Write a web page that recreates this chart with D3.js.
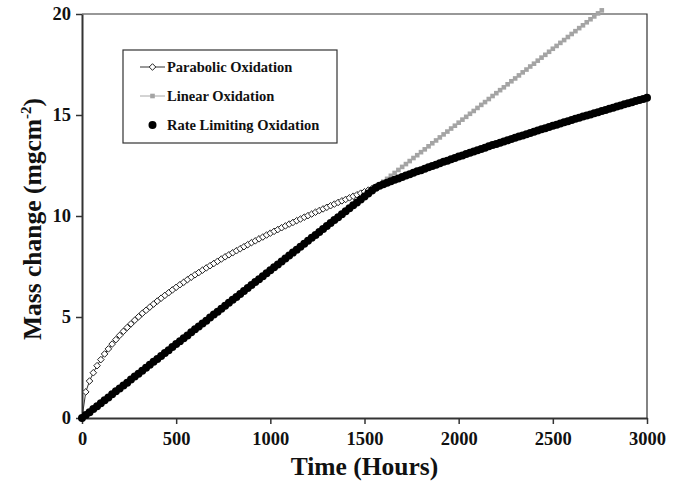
<!DOCTYPE html>
<html>
<head>
<meta charset="utf-8">
<script src="https://cdn.jsdelivr.net/npm/d3@7"></script>
<style>
  body { margin: 0; background: #fff; }
  text { font-family: "Liberation Serif", "Times New Roman", serif; font-weight: bold; fill: #111; }
</style>
</head>
<body>
<svg id="chart" width="687" height="483"></svg>
<script>
// Sampling times (hours)
const hours = [0,20,40,60,80,100,120,140,160,180,200,220,240,260,280,300,320,340,360,380,400,420,440,460,480,500,520,540,560,580,600,620,640,660,680,700,720,740,760,780,800,820,840,860,880,900,920,940,960,980,1000,1020,1040,1060,1080,1100,1120,1140,1160,1180,1200,1220,1240,1260,1280,1300,1320,1340,1360,1380,1400,1420,1440,1460,1480,1500,1520,1540,1560,1580,1600,1620,1640,1660,1680,1700,1720,1740,1760,1780,1800,1820,1840,1860,1880,1900,1920,1940,1960,1980,2000,2020,2040,2060,2080,2100,2120,2140,2160,2180,2200,2220,2240,2260,2280,2300,2320,2340,2360,2380,2400,2420,2440,2460,2480,2500,2520,2540,2560,2580,2600,2620,2640,2660,2680,2700,2720,2740,2760,2780,2800,2820,2840,2860,2880,2900,2920,2940,2960,2980,3000];

// Mass change (mg/cm^2) per series, indexed against hours
const parabolic = [0,1.29,1.83,2.24,2.59,2.89,3.17,3.42,3.66,3.88,4.09,4.29,4.48,4.66,4.84,5.01,5.18,5.33,5.49,5.64,5.79,5.93,6.07,6.20,6.34,6.47,6.60,6.72,6.85,6.97,7.09,7.20,7.32,7.43,7.54,7.65,7.76,7.87,7.98,8.08,8.18,8.28,8.38,8.48,8.58,8.68,8.77,8.87,8.96,9.06,9.15,9.24,9.33,9.42,9.51,9.60,9.68,9.77,9.85,9.94,10.02,10.10,10.19,10.27,10.35,10.43,10.51,10.59,10.67,10.75,10.82,10.90,10.98,11.05,11.13,11.20,11.28,11.35,11.43,11.50];

const linear = [0,0.15,0.29,0.44,0.58,0.73,0.88,1.02,1.17,1.32,1.46,1.61,1.75,1.90,2.05,2.19,2.34,2.49,2.63,2.78,2.92,3.07,3.22,3.36,3.51,3.66,3.80,3.95,4.09,4.24,4.39,4.53,4.68,4.82,4.97,5.12,5.26,5.41,5.56,5.70,5.85,5.99,6.14,6.29,6.43,6.58,6.73,6.87,7.02,7.16,7.31,7.46,7.60,7.75,7.89,8.04,8.19,8.33,8.48,8.63,8.77,8.92,9.06,9.21,9.36,9.50,9.65,9.80,9.94,10.09,10.23,10.38,10.53,10.67,10.82,10.97,11.11,11.26,11.40,11.55,11.70,11.84,11.99,12.13,12.28,12.43,12.57,12.72,12.87,13.01,13.16,13.30,13.45,13.60,13.74,13.89,14.04,14.18,14.33,14.47,14.62,14.77,14.91,15.06,15.20,15.35,15.50,15.64,15.79,15.94,16.08,16.23,16.37,16.52,16.67,16.81,16.96,17.11,17.25,17.40,17.54,17.69,17.84,17.98,18.13,18.28,18.42,18.57,18.71,18.86,19.01,19.15,19.30,19.44,19.59,19.74,19.88,20.03,20.18];

const rateLimiting = [0,0.15,0.29,0.44,0.58,0.73,0.88,1.02,1.17,1.32,1.46,1.61,1.75,1.90,2.05,2.19,2.34,2.49,2.63,2.78,2.92,3.07,3.22,3.36,3.51,3.66,3.80,3.95,4.09,4.24,4.39,4.53,4.68,4.82,4.97,5.12,5.26,5.41,5.56,5.70,5.85,5.99,6.14,6.29,6.43,6.58,6.73,6.87,7.02,7.16,7.31,7.46,7.60,7.75,7.89,8.04,8.19,8.33,8.48,8.63,8.77,8.92,9.06,9.21,9.36,9.50,9.65,9.80,9.94,10.09,10.23,10.38,10.53,10.67,10.82,10.97,11.11,11.26,11.40,11.50,11.57,11.64,11.72,11.79,11.86,11.93,12.00,12.07,12.14,12.21,12.27,12.34,12.41,12.48,12.54,12.61,12.68,12.74,12.81,12.87,12.94,13.00,13.07,13.13,13.19,13.26,13.32,13.38,13.45,13.51,13.57,13.63,13.69,13.75,13.81,13.87,13.93,13.99,14.05,14.11,14.17,14.23,14.29,14.35,14.41,14.47,14.52,14.58,14.64,14.69,14.75,14.81,14.86,14.92,14.98,15.03,15.09,15.14,15.20,15.25,15.31,15.36,15.42,15.47,15.53,15.58,15.63,15.69,15.74,15.79,15.85];

const seriesNames = ["Parabolic Oxidation", "Linear Oxidation", "Rate Limiting Oxidation"];
const xTicks = [0, 500, 1000, 1500, 2000, 2500, 3000];
const yTicks = [0, 5, 10, 15, 20];
const xTitle = "Time (Hours)";

const svg = d3.select("#chart");
const plotLeft = 82, plotRight = 647, plotTop = 14, plotBottom = 418;

const x = d3.scaleLinear().domain([0, 3000]).range([plotLeft, plotRight]);
const y = d3.scaleLinear().domain([0, 20]).range([plotBottom, plotTop]);

const pts = arr => arr.map((v, i) => [hours[i], v]);

// Plot frame (top and right edges)
svg.append("path")
  .attr("d", `M${plotLeft},${plotTop}H${plotRight}V${plotBottom}`)
  .attr("fill", "none").attr("stroke", "#333").attr("stroke-width", 1.2);

// Axes
const xAxis = svg.append("g").attr("transform", `translate(0,${plotBottom})`)
  .call(d3.axisBottom(x).tickValues(xTicks).tickFormat(d3.format("d"))
    .tickSize(6).tickPadding(8).tickSizeOuter(0));
const yAxis = svg.append("g").attr("transform", `translate(${plotLeft},0)`)
  .call(d3.axisLeft(y).tickValues(yTicks).tickFormat(d3.format("d"))
    .tickSize(6).tickPadding(5).tickSizeOuter(0));
[xAxis, yAxis].forEach(g => {
  g.select(".domain").attr("stroke", "#333").attr("stroke-width", 2);
  g.selectAll(".tick line").attr("stroke", "#333").attr("stroke-width", 1.5);
  g.selectAll(".tick text").attr("font-size", 18.5)
    .attr("font-family", '"Liberation Serif", "Times New Roman", serif')
    .attr("font-weight", "bold").attr("fill", "#111");
});

// Axis titles
svg.append("text").attr("x", (plotLeft + plotRight) / 2).attr("y", 475)
  .attr("text-anchor", "middle").attr("font-size", 25.5).text(xTitle);

const yt = svg.append("text")
  .attr("transform", `translate(41,${(plotTop + plotBottom) / 2 + 3}) rotate(-90)`)
  .attr("text-anchor", "middle").attr("font-size", 25.5);
yt.append("tspan").text("Mass change (mgcm");
yt.append("tspan").attr("font-size", 15).attr("dy", -10).text("-2");
yt.append("tspan").attr("dy", 10).text(")");

const line = d3.line().x(d => x(d[0])).y(d => y(d[1]));
const diamond = (cx, cy, r) => `M${cx},${cy - r}L${cx + r},${cy}L${cx},${cy + r}L${cx - r},${cy}Z`;

// Parabolic oxidation
const parPts = pts(parabolic);
svg.append("path").attr("d", line(parPts)).attr("fill", "none")
  .attr("stroke", "#333").attr("stroke-width", 1);
svg.append("g").selectAll("path").data(parPts).join("path")
  .attr("d", d => diamond(x(d[0]), y(d[1]), 3.3))
  .attr("fill", "#fff").attr("stroke", "#222").attr("stroke-width", 1);

// Linear oxidation
const linPts = pts(linear);
svg.append("path").attr("d", line(linPts)).attr("fill", "none")
  .attr("stroke", "#a8a8a8").attr("stroke-width", 1);
svg.append("g").selectAll("rect").data(linPts).join("rect")
  .attr("x", d => x(d[0]) - 2.3).attr("y", d => y(d[1]) - 2.3)
  .attr("width", 4.6).attr("height", 4.6).attr("fill", "#a4a4a4");

// Rate limiting oxidation
const rlPts = pts(rateLimiting);
svg.append("g").selectAll("circle").data(rlPts).join("circle")
  .attr("cx", d => x(d[0])).attr("cy", d => y(d[1])).attr("r", 4).attr("fill", "#000");

// Legend
const lg = svg.append("g");
lg.append("rect").attr("x", 123).attr("y", 50).attr("width", 214).attr("height", 93)
  .attr("fill", "#fff").attr("stroke", "#333").attr("stroke-width", 1.2);
const rows = [67, 96, 125];
// parabolic sample
lg.append("line").attr("x1", 140).attr("x2", 165).attr("y1", rows[0]).attr("y2", rows[0])
  .attr("stroke", "#333").attr("stroke-width", 1);
lg.append("path").attr("d", diamond(152.5, rows[0], 3.3)).attr("fill", "#fff")
  .attr("stroke", "#222").attr("stroke-width", 1);
// linear sample
lg.append("line").attr("x1", 140).attr("x2", 165).attr("y1", rows[1]).attr("y2", rows[1])
  .attr("stroke", "#a8a8a8").attr("stroke-width", 1);
lg.append("rect").attr("x", 150.2).attr("y", rows[1] - 2.3).attr("width", 4.6).attr("height", 4.6)
  .attr("fill", "#a4a4a4");
// rate limiting sample
lg.append("circle").attr("cx", 152.5).attr("cy", rows[2]).attr("r", 4).attr("fill", "#000");

seriesNames.forEach((name, i) => {
  lg.append("text").attr("x", 167).attr("y", rows[i]).attr("dy", "0.35em")
    .attr("font-size", 14.5).text(name);
});
</script>
</body>
</html>
